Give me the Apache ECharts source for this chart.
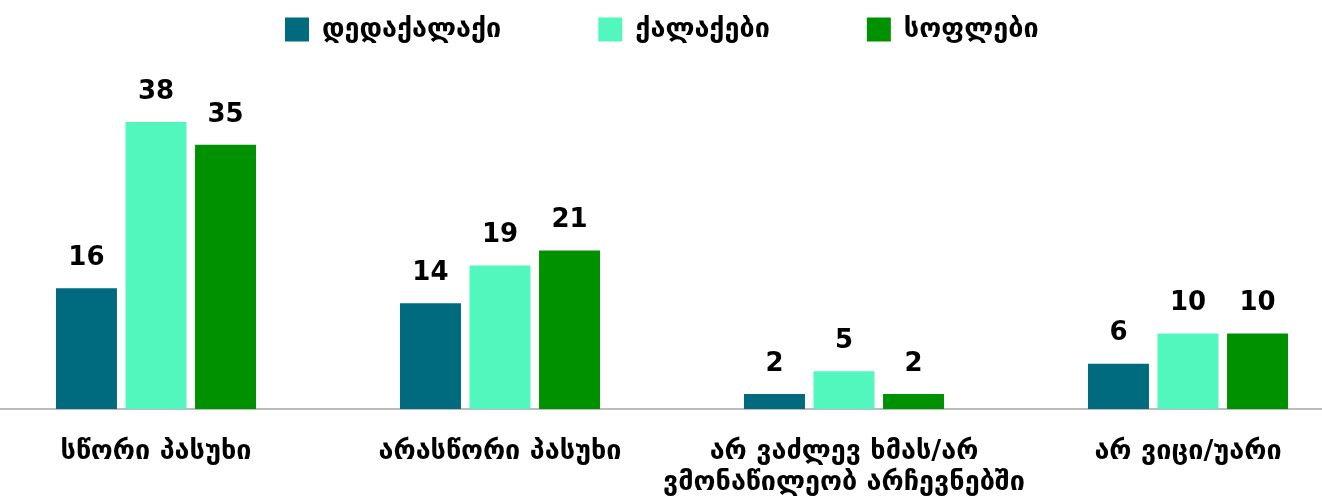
<!DOCTYPE html>
<html>
<head>
<meta charset="utf-8">
<script src="https://cdn.jsdelivr.net/npm/echarts@6/dist/echarts.min.js"></script>
<style>
html, body { margin: 0; padding: 0; background: #fff; overflow: hidden; }
#chart { width: 1376px; height: 498px; margin-left: -16px; }
</style>
</head>
<body>
<div id="chart"></div>
<script>
const categories = ['სწორი პასუხი', 'არასწორი პასუხი', 'არ ვაძლევ ხმას/არ\nვმონაწილეობ არჩევნებში', 'არ ვიცი/უარი'];
const seriesNames = ['დედაქალაქი', 'ქალაქები', 'სოფლები'];
const capital = [16, 14, 2, 6];
const cities = [38, 19, 5, 10];
const villages = [35, 21, 2, 10];
const colors = ['#006B7E', '#52F7BE', '#009100'];

const chart = echarts.init(document.getElementById('chart'));
const font = 'DejaVu Sans';

const label = {
    show: true,
    position: 'top',
    distance: 17,
    color: '#000',
    fontFamily: font,
    fontWeight: 'bold',
    fontSize: 26
};

chart.setOption({
    animation: false,
    color: colors,
    textStyle: { fontFamily: font },
    legend: {
        top: 11,
        left: 296,
        itemWidth: 24,
        itemHeight: 24,
        itemGap: 97,
        icon: 'rect',
        textStyle: { fontFamily: font, fontWeight: 'bold', fontSize: 27, color: '#000', padding: [0, 0, 0, 8] },
        data: seriesNames
    },
    grid: { left: 0, right: 0, top: 107, bottom: 89 },
    xAxis: {
        type: 'category',
        data: categories,
        axisTick: { show: false },
        axisLine: { lineStyle: { color: '#a6a6a6', width: 1.5 } },
        axisLabel: {
            margin: 27,
            color: '#000',
            fontFamily: font,
            fontWeight: 'bold',
            fontSize: 27,
            lineHeight: 31,
            interval: 0
        }
    },
    yAxis: {
        type: 'value',
        min: 0,
        max: 40,
        show: false,
        splitLine: { show: false }
    },
    series: [
        { name: seriesNames[0], type: 'bar', data: capital, barWidth: 61, barGap: '14%', label: label },
        { name: seriesNames[1], type: 'bar', data: cities, barWidth: 61, barGap: '14%', label: label },
        { name: seriesNames[2], type: 'bar', data: villages, barWidth: 61, barGap: '14%', label: label }
    ]
});
</script>
</body>
</html>
